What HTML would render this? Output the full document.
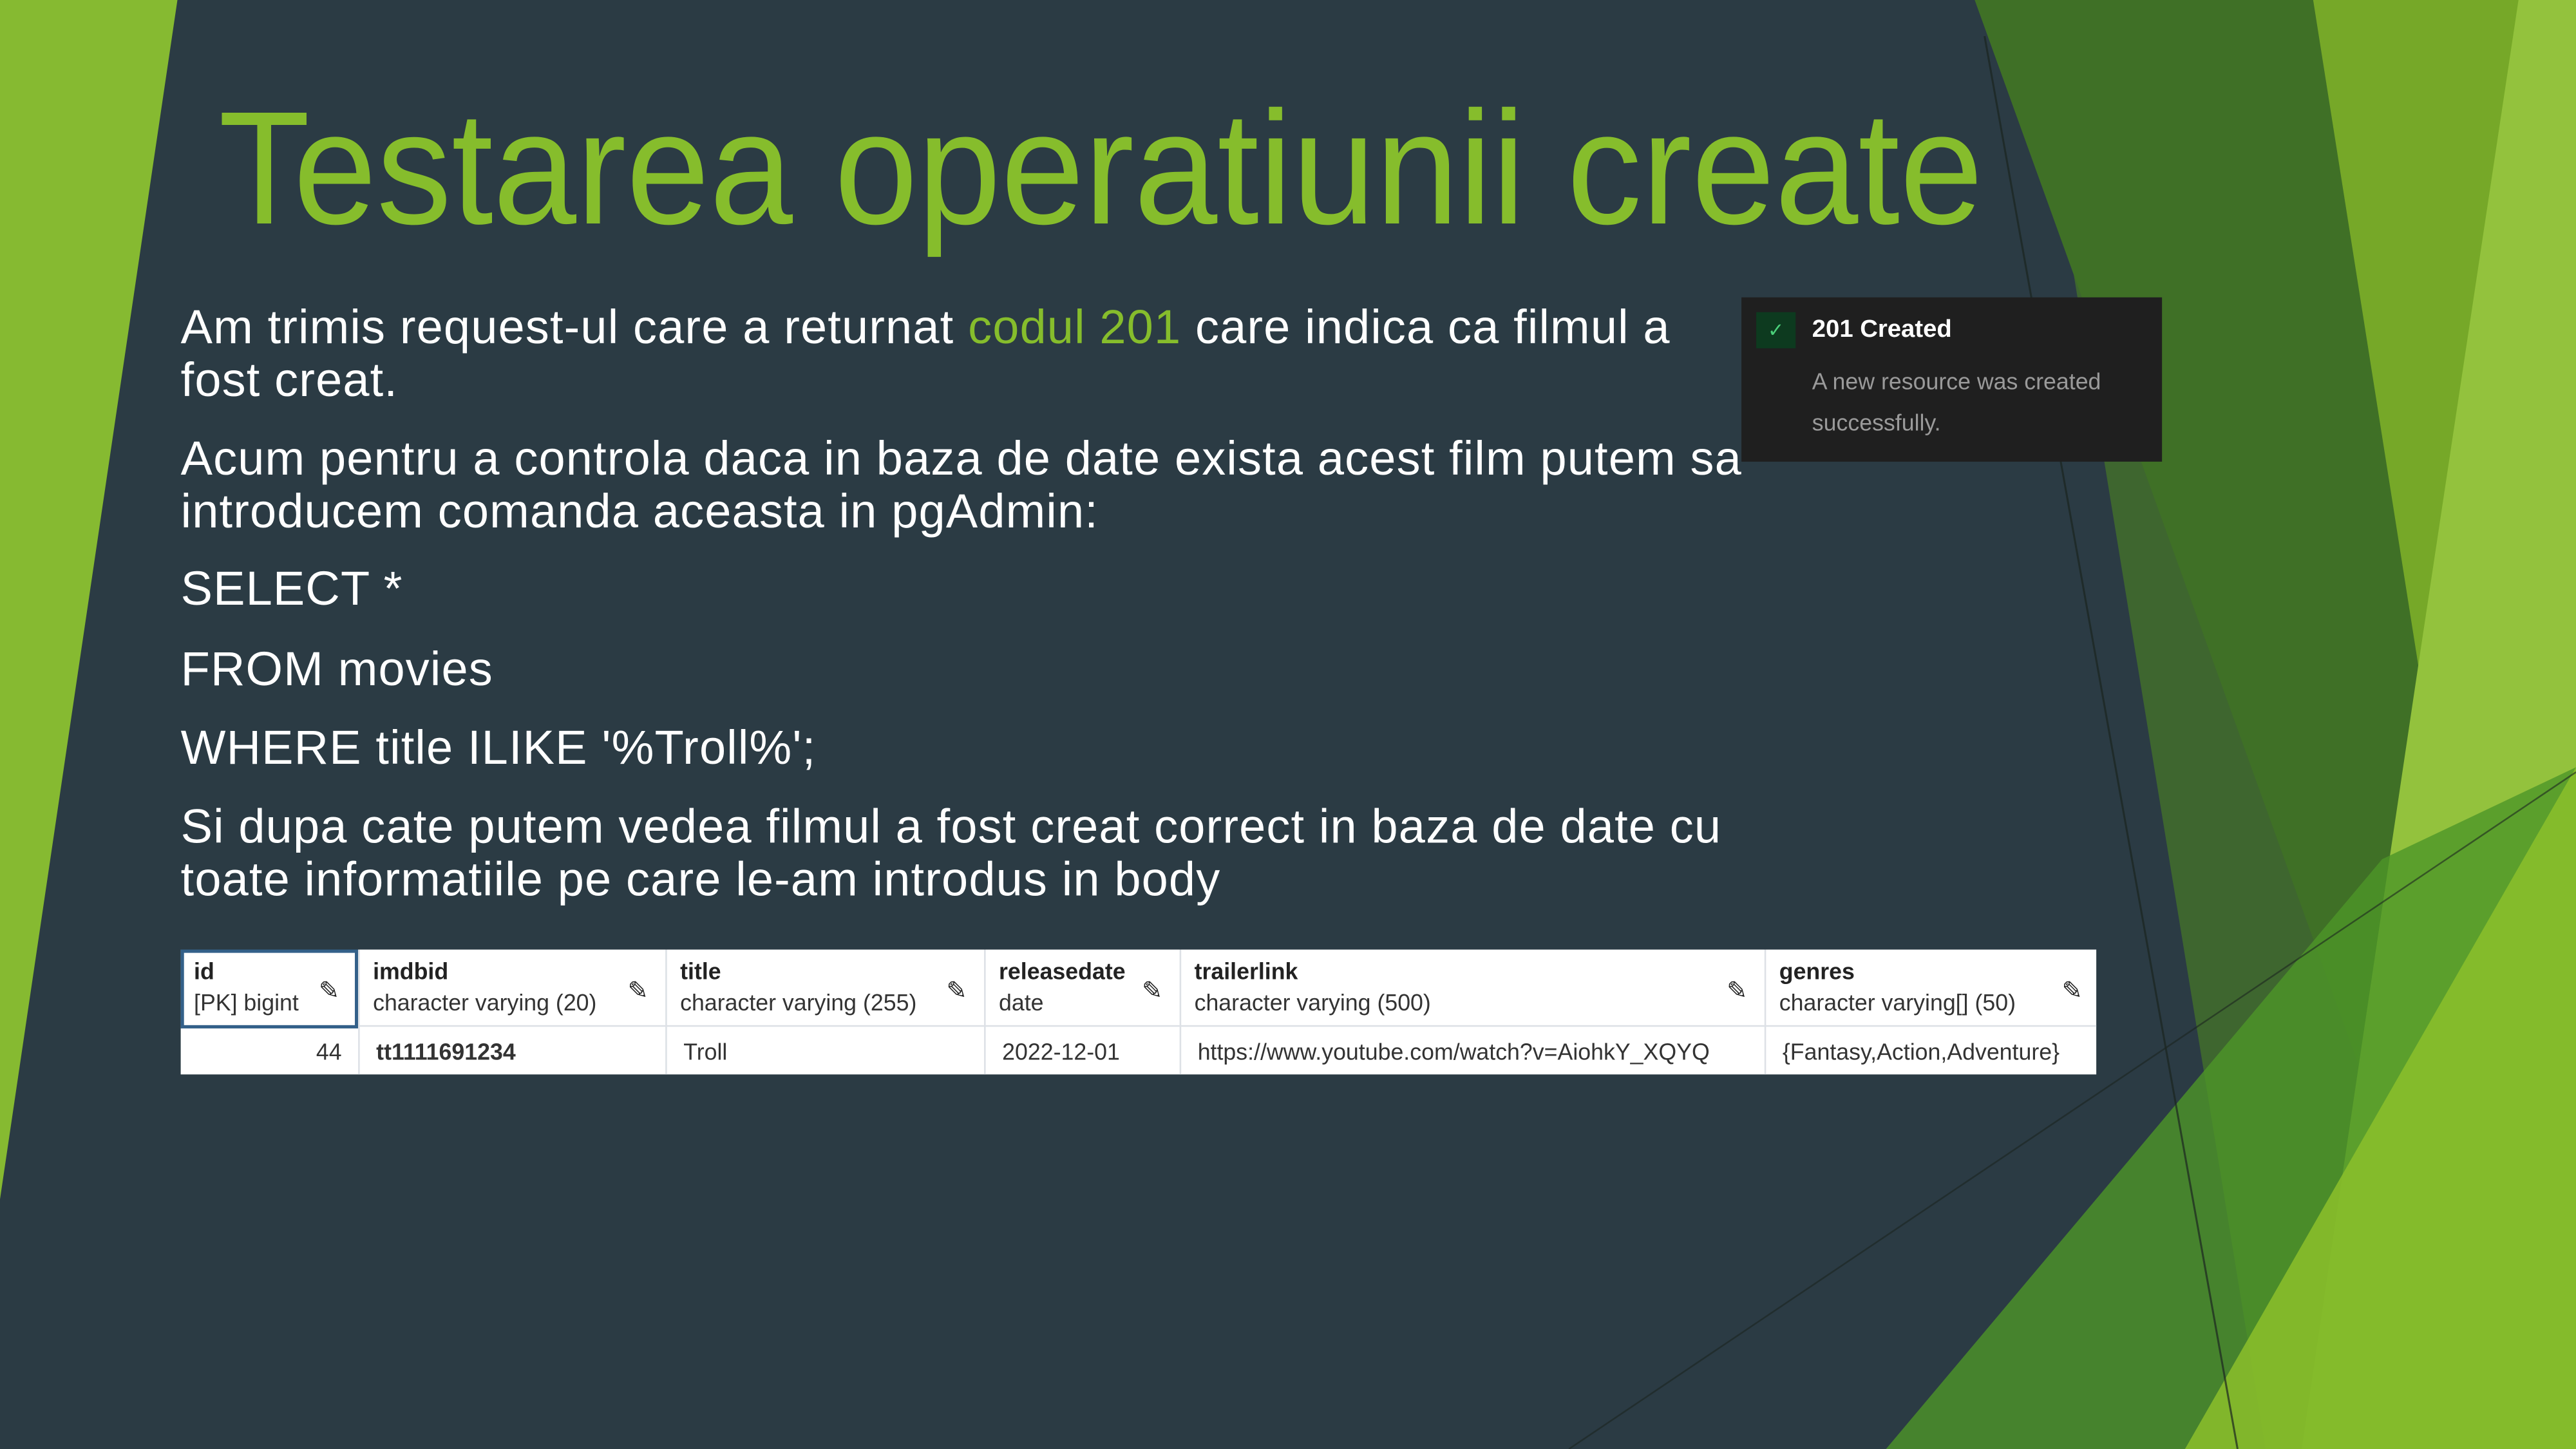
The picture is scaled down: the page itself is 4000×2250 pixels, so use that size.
<!DOCTYPE html>
<html><head><meta charset="utf-8"><style>
html,body{margin:0;padding:0;background:#2b3b44;overflow:hidden}
#wrap{width:4000px;height:2250px;position:relative;overflow:hidden;background:#2b3b44}
#s{position:absolute;left:0;top:0;width:1568px;height:882px;transform:scale(2.55102);transform-origin:0 0;font-family:"Liberation Sans",sans-serif}
.t{position:absolute;white-space:nowrap}
.body{color:#fff;font-size:29px;left:110px;letter-spacing:0.45px}
.tbl{position:absolute;left:110px;top:578px;width:1166px;height:76px;background:#fff}
.c{position:absolute;top:0;height:76px;border-left:1px solid #dde1e6}
.h1{position:absolute;top:5px;left:8px;font-size:14px;font-weight:bold;color:#222}
.h2{position:absolute;top:24px;left:8px;font-size:14px;color:#333}
.d{position:absolute;top:54px;left:10px;font-size:14px;color:#333}
.pen{position:absolute;top:16px;font-size:15px;color:#222}
</style></head><body><div id="wrap"><div id="s">
<svg width="1568" height="882" style="position:absolute;left:0;top:0">
<polygon points="0,0 108,0 0,730" fill="#86ba31"/>
<polygon points="1235,0 1568,0 1568,882 1379,882" fill="rgba(66,110,44,0.85)"/>
<polygon points="1202,0 1408,0 1472,405 1437,652" fill="#3f7026"/>
<polygon points="1408,0 1568,0 1568,760 1500,579 1472,405" fill="#76a828"/>
<polygon points="1533,0 1568,0 1568,882 1401,882 1426,714 1472,405" fill="#93c23d"/>
<polygon points="1148,882 1450,523 1568,467 1568,882" fill="rgba(78,150,40,0.8)"/>
<polygon points="1330,882 1568,467 1568,882" fill="rgba(140,192,44,0.85)"/>
<line x1="1208" y1="22" x2="1362" y2="882" stroke="#1c2620" stroke-width="1.2" opacity="0.7"/>
<line x1="955" y1="882" x2="1568" y2="470" stroke="#1c2620" stroke-width="1" opacity="0.6"/>
</svg>
<div class="t" style="left:133px;top:46px;font-size:98px;color:#86bd2c;transform:scaleX(0.93);transform-origin:0 0">Testarea operatiunii create</div>
<div class="t body" style="top:184px;line-height:32px">Am trimis request-ul care a returnat <span style="color:#86bd2c">codul 201</span> care indica ca filmul a<br>fost creat.</div>
<div class="t body" style="top:264px;line-height:32px">Acum pentru a controla daca in baza de date exista acest film putem sa<br>introducem comanda aceasta in pgAdmin:</div>
<div class="t body" style="top:343px">SELECT *</div>
<div class="t body" style="top:392px">FROM movies</div>
<div class="t body" style="top:440px">WHERE title ILIKE '%Troll%';</div>
<div class="t body" style="top:488px;line-height:32px">Si dupa cate putem vedea filmul a fost creat correct in baza de date cu<br>toate informatiile pe care le-am introdus in body</div>

<div style="position:absolute;left:1060px;top:181px;width:256px;height:100px;background:#1f1f1f">
<div style="position:absolute;left:9px;top:9px;width:24px;height:22px;background:#0d3a1f;color:#4bd07a;font-size:12px;text-align:center;line-height:22px">✓</div>
<div class="t" style="left:43px;top:11px;font-size:15px;font-weight:bold;color:#fff">201 Created</div>
<div class="t" style="left:43px;top:39px;font-size:14px;color:#9a9a9a;line-height:25px">A new resource was created<br>successfully.</div>
</div>

<div class="tbl">
<div style="position:absolute;left:0;top:46px;width:1166px;height:1px;background:#dde1e6"></div>
<div class="c" style="left:0;width:108px;border-left:none">
<div style="position:absolute;left:0;top:0;width:104px;height:44px;border:2px solid #336089"></div>
<div class="h1">id</div><div class="h2">[PK] bigint</div><div class="pen" style="left:84px">✎</div>
<div class="d" style="left:auto;right:10px">44</div></div>
<div class="c" style="left:108px;width:187px"><div class="h1">imdbid</div><div class="h2">character varying (20)</div><div class="pen" style="left:163px">✎</div><div class="d" style="font-weight:bold">tt1111691234</div></div>
<div class="c" style="left:295px;width:194px"><div class="h1">title</div><div class="h2">character varying (255)</div><div class="pen" style="left:170px">✎</div><div class="d">Troll</div></div>
<div class="c" style="left:489px;width:119px"><div class="h1">releasedate</div><div class="h2">date</div><div class="pen" style="left:95px">✎</div><div class="d">2022-12-01</div></div>
<div class="c" style="left:608px;width:356px"><div class="h1">trailerlink</div><div class="h2">character varying (500)</div><div class="pen" style="left:332px">✎</div><div class="d">https://www.youtube.com/watch?v=AiohkY_XQYQ</div></div>
<div class="c" style="left:964px;width:202px"><div class="h1">genres</div><div class="h2">character varying[] (50)</div><div class="pen" style="left:180px">✎</div><div class="d">{Fantasy,Action,Adventure}</div></div>
</div>
</div></div></body></html>
